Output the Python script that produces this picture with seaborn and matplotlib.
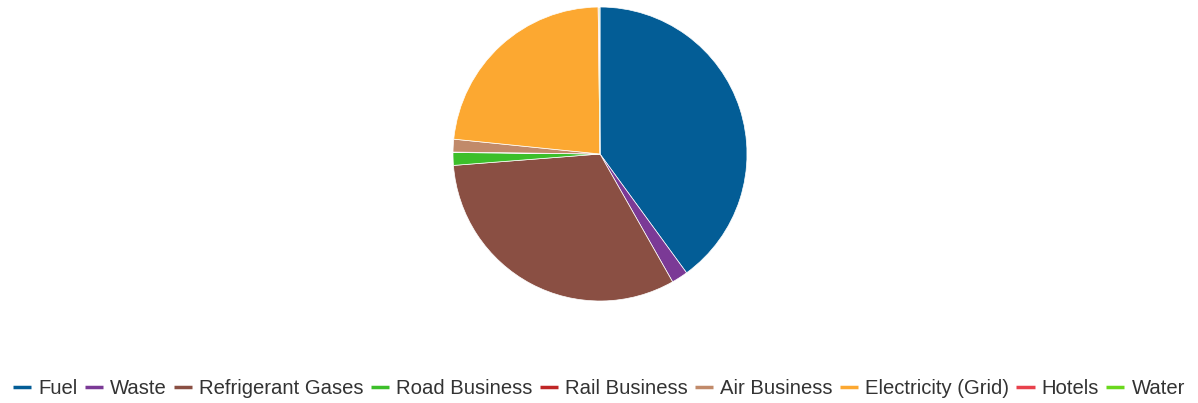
import matplotlib
matplotlib.use("Agg")
import matplotlib.pyplot as plt
from matplotlib.lines import Line2D
import seaborn as sns

# emission sources and their share (percent)
categories = ["Fuel", "Waste", "Refrigerant Gases", "Road Business", "Rail Business",
              "Air Business", "Electricity (Grid)", "Hotels", "Water"]
shares = [40.0, 1.8, 32.0, 1.4, 0.05, 1.4, 23.2, 0.1, 0.1]
colors = ["#035d96", "#7b3a96", "#8a4f43", "#3cbf2a", "#c02626",
          "#c18a6a", "#fca831", "#e8414c", "#6ad81d"]

sns.set_theme(style="white")
plt.rcParams['font.family'] = ['Liberation Sans', 'DejaVu Sans']

fig = plt.figure(figsize=(11.98, 4.03), dpi=100)
ax = fig.add_axes([453 / 1198, (403 - 301) / 403, 294 / 1198, 294 / 403])
ax.pie(shares, colors=colors, startangle=90, counterclock=False, radius=1,
       wedgeprops=dict(edgecolor="white", linewidth=0.5))
ax.set_xlim(-1, 1)
ax.set_ylim(-1, 1)
ax.set_aspect("equal")
ax.axis("off")

handles = [Line2D([0], [0], color=c, lw=2.5, solid_capstyle="butt") for c in colors]
fig.legend(handles, categories, loc="center", bbox_to_anchor=(0.5, 1 - 389 / 403),
           ncol=len(categories), frameon=False, fontsize=14.6, handlelength=0.9,
           handletextpad=0.35, columnspacing=0.35, labelcolor="#333333")

fig.savefig("out.png", dpi=100)
